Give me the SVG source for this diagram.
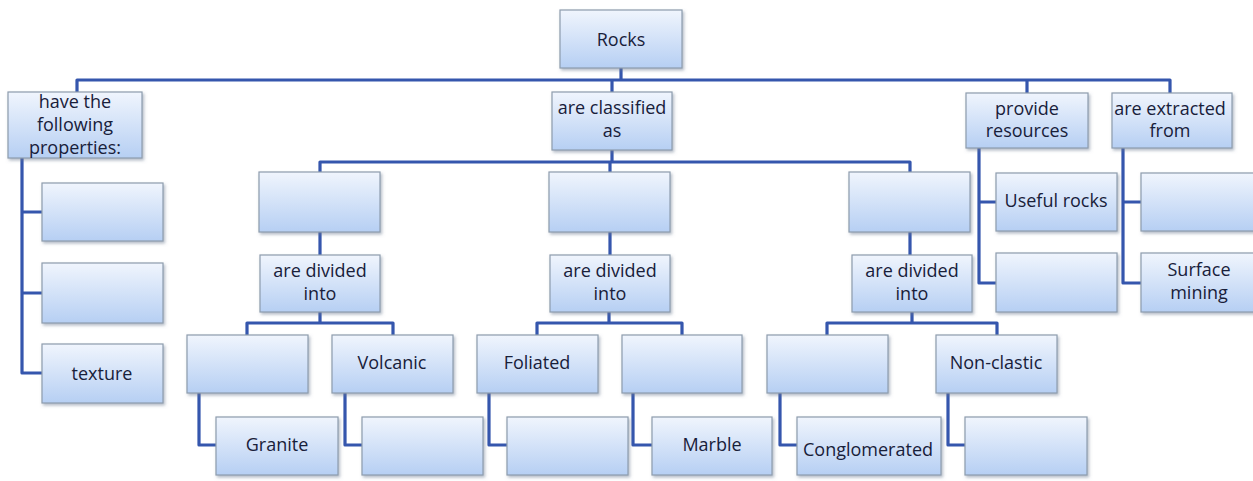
<svg xmlns="http://www.w3.org/2000/svg" width="1253" height="481" viewBox="0 0 1253 481">
<defs>
<linearGradient id="g" x1="0" y1="0" x2="0" y2="1">
<stop offset="0" stop-color="#f0f5fd"/>
<stop offset="1" stop-color="#b6cff3"/>
</linearGradient>
<filter id="sh" x="-10%" y="-10%" width="125%" height="130%">
<feDropShadow dx="1.5" dy="2" stdDeviation="1.5" flood-color="#6a7a90" flood-opacity="0.5"/>
</filter>
<style>
.b{fill:url(#g);stroke:#8d9cad;stroke-width:1.2;filter:url(#sh)}
.t{font-family:"Open Sans","Liberation Sans",sans-serif;font-size:18px;fill:#18203a;text-anchor:middle}
.c{fill:none;stroke:#3556ad;stroke-width:3.2;stroke-linejoin:round}
</style>
</defs>
<rect width="1253" height="481" fill="#ffffff"/>
<g id="connectors" class="c">
<path d="M621,68V80"/>
<path d="M77,92V80H1170V93"/>
<path d="M612,80V92"/>
<path d="M1027,80V93"/>
<path d="M22,158V373H42M22,212H42M22,293H42"/>
<path d="M612,150V162"/>
<path d="M320,172V162H910V172"/>
<path d="M610,162V172"/>
<path d="M320,232V255M610,232V255M910,232V255"/>
<path d="M320,312V323M247,335V323H393V335"/>
<path d="M609,312V323M537,335V323H682V335"/>
<path d="M912,312V323M827,335V323H997V335"/>
<path d="M199,393V445H216M345,393V445H362M489,393V445H507M633,393V445H652M780,393V445H797M948,393V445H965"/>
<path d="M979,148V283H996M979,202H996"/>
<path d="M1123,148V283H1141M1123,202H1141"/>
</g>
<g id="rocks"><rect class="b" x="560" y="10" width="122" height="58"/><text class="t" x="621" y="46">Rocks</text></g>
<g id="properties"><rect class="b" x="8" y="92" width="134" height="66"/><text class="t" x="75" y="108">have the</text><text class="t" x="75" y="131">following</text><text class="t" x="75" y="154">properties:</text></g>
<g id="classified"><rect class="b" x="552" y="92" width="120" height="58"/><text class="t" x="612" y="114">are classified</text><text class="t" x="612" y="137">as</text></g>
<g id="provide"><rect class="b" x="966" y="93" width="122" height="55"/><text class="t" x="1027" y="115">provide</text><text class="t" x="1027" y="137">resources</text></g>
<g id="extracted"><rect class="b" x="1112" y="93" width="120" height="55"/><text class="t" x="1170" y="115">are extracted</text><text class="t" x="1170" y="137">from</text></g>
<g id="prop1"><rect class="b" x="42" y="183" width="121" height="58"/></g>
<g id="prop2"><rect class="b" x="42" y="263" width="121" height="60"/></g>
<g id="texture"><rect class="b" x="42" y="344" width="121" height="59"/><text class="t" x="102" y="380">texture</text></g>
<g id="class1"><rect class="b" x="259" y="172" width="121" height="60"/></g>
<g id="class2"><rect class="b" x="549" y="172" width="121" height="60"/></g>
<g id="class3"><rect class="b" x="849" y="172" width="121" height="60"/></g>
<g id="divided1"><rect class="b" x="260" y="255" width="120" height="57"/><text class="t" x="320" y="277">are divided</text><text class="t" x="320" y="300">into</text></g>
<g id="divided2"><rect class="b" x="550" y="255" width="120" height="57"/><text class="t" x="610" y="277">are divided</text><text class="t" x="610" y="300">into</text></g>
<g id="divided3"><rect class="b" x="852" y="255" width="120" height="57"/><text class="t" x="912" y="277">are divided</text><text class="t" x="912" y="300">into</text></g>
<g id="igneous1"><rect class="b" x="187" y="335" width="121" height="58"/></g>
<g id="volcanic"><rect class="b" x="332" y="335" width="121" height="58"/><text class="t" x="392" y="369">Volcanic</text></g>
<g id="granite"><rect class="b" x="216" y="417" width="122" height="58"/><text class="t" x="277" y="451">Granite</text></g>
<g id="volcanic2"><rect class="b" x="362" y="417" width="121" height="58"/></g>
<g id="foliated"><rect class="b" x="477" y="335" width="121" height="58"/><text class="t" x="537" y="369">Foliated</text></g>
<g id="metamorphic2"><rect class="b" x="622" y="335" width="120" height="58"/></g>
<g id="foliated2"><rect class="b" x="507" y="417" width="121" height="58"/></g>
<g id="marble"><rect class="b" x="652" y="417" width="120" height="58"/><text class="t" x="712" y="451">Marble</text></g>
<g id="sedimentary1"><rect class="b" x="767" y="335" width="121" height="58"/></g>
<g id="nonclastic"><rect class="b" x="936" y="335" width="121" height="58"/><text class="t" x="996" y="369">Non-clastic</text></g>
<g id="conglomerated"><rect class="b" x="797" y="417" width="144" height="58"/><text class="t" x="868" y="456">Conglomerated</text></g>
<g id="nonclastic2"><rect class="b" x="965" y="417" width="122" height="58"/></g>
<g id="useful"><rect class="b" x="996" y="173" width="121" height="58"/><text class="t" x="1056" y="207">Useful rocks</text></g>
<g id="resource2"><rect class="b" x="996" y="253" width="121" height="59"/></g>
<g id="extract1"><rect class="b" x="1141" y="173" width="120" height="58"/></g>
<g id="surface"><rect class="b" x="1141" y="253" width="120" height="59"/><text class="t" x="1199" y="276">Surface</text><text class="t" x="1199" y="299">mining</text></g>
</svg>
